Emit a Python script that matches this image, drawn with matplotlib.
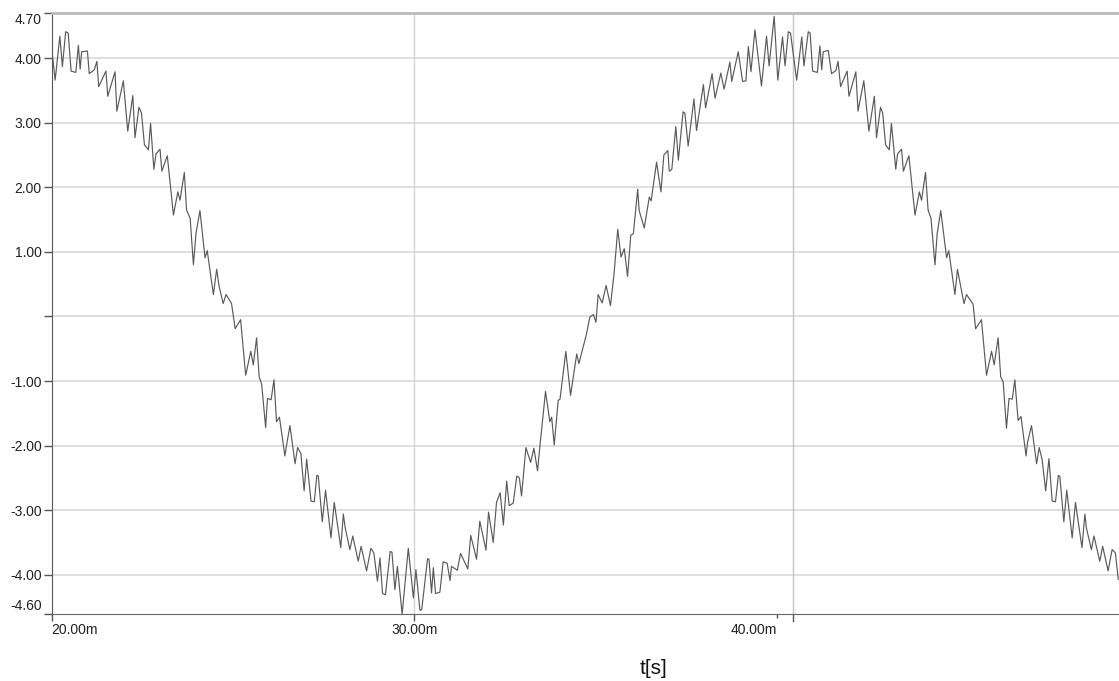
import matplotlib
matplotlib.use("Agg")
import matplotlib.pyplot as plt

# time axis in ms (peaks and dips of the ripple)
t_ms = [20.01, 20.10, 20.23, 20.30, 20.39, 20.46, 20.54, 20.67, 20.74, 20.79,
        20.83, 20.99, 21.04, 21.18, 21.25, 21.30, 21.50, 21.55, 21.75, 21.80,
        21.98, 22.10, 22.24, 22.30, 22.41, 22.48, 22.56, 22.67, 22.73, 22.82,
        22.88, 22.99, 23.04, 23.19, 23.36, 23.48, 23.54, 23.66, 23.72, 23.82,
        23.91, 23.98, 24.09, 24.23, 24.29, 24.46, 24.55, 24.62, 24.73, 24.81,
        24.96, 25.06, 25.21, 25.35, 25.49, 25.56, 25.65, 25.72, 25.79, 25.90,
        25.95, 26.05, 26.13, 26.20, 26.28, 26.43, 26.48, 26.57, 26.71, 26.78,
        26.87, 26.96, 27.03, 27.15, 27.24, 27.31, 27.35, 27.46, 27.55, 27.70,
        27.79, 27.97, 28.04, 28.09, 28.22, 28.30, 28.45, 28.53, 28.68, 28.80,
        28.88, 28.98, 29.05, 29.12, 29.20, 29.33, 29.38, 29.46, 29.53, 29.66,
        29.83, 29.97, 30.04, 30.15, 30.20, 30.36, 30.40, 30.47, 30.52, 30.58,
        30.70, 30.79, 30.90, 30.98, 31.02, 31.18, 31.27, 31.47, 31.55, 31.71,
        31.80, 31.97, 32.04, 32.17, 32.26, 32.36, 32.45, 32.54, 32.61, 32.72,
        32.82, 32.89, 32.95, 33.07, 33.20, 33.29, 33.39, 33.46, 33.50, 33.61,
        33.73, 33.78, 33.85, 33.96, 34.01, 34.17, 34.30, 34.47, 34.53, 34.74,
        34.83, 34.93, 35.00, 35.06, 35.17, 35.28, 35.40, 35.50, 35.60, 35.69,
        35.78, 35.87, 35.96, 36.03, 36.15, 36.19, 36.33, 36.47, 36.52, 36.67,
        36.79, 36.87, 36.98, 37.02, 37.09, 37.20, 37.27, 37.40, 37.45, 37.54,
        37.70, 37.77, 37.96, 38.02, 38.20, 38.28, 38.44, 38.53, 38.69, 38.74,
        38.92, 39.04, 39.13, 39.20, 39.27, 39.38, 39.56, 39.70, 39.77, 39.91,
        40.01, 40.14, 40.21, 40.30, 40.36, 40.53, 40.67, 40.73, 40.85, 40.90,
        40.97, 41.10, 41.17, 41.22, 41.26, 41.40, 41.49, 41.61, 41.67, 41.74,
        41.92, 41.97, 42.16, 42.22, 42.38, 42.52, 42.67, 42.73, 42.84, 42.90,
        42.98, 43.08, 43.14, 43.26, 43.31, 43.42, 43.47, 43.62, 43.79, 43.91,
        43.97, 44.08, 44.15, 44.23, 44.34, 44.40, 44.50, 44.66, 44.72, 44.89,
        44.96, 45.05, 45.14, 45.21, 45.39, 45.46, 45.62, 45.76, 45.90, 45.97,
        46.08, 46.15, 46.22, 46.31, 46.38, 46.47, 46.54, 46.63, 46.71, 46.85,
        46.89, 47.00, 47.14, 47.21, 47.29, 47.39, 47.48, 47.57, 47.66, 47.74,
        47.78, 47.89, 47.97, 48.12, 48.21, 48.39, 48.47, 48.51, 48.65, 48.72,
        48.88, 48.96, 49.11, 49.22, 49.31, 49.39]

volts = [4.13, 3.66, 4.34, 3.87, 4.41, 4.39, 3.80, 3.78, 4.20, 3.83,
         4.10, 4.11, 3.76, 3.82, 3.95, 3.56, 3.80, 3.41, 3.79, 3.18,
         3.65, 2.87, 3.42, 2.77, 3.24, 3.15, 2.66, 2.58, 2.99, 2.28,
         2.52, 2.59, 2.25, 2.49, 1.57, 1.93, 1.80, 2.23, 1.65, 1.52,
         0.80, 1.28, 1.64, 0.91, 1.02, 0.34, 0.73, 0.46, 0.20, 0.34,
         0.20, -0.19, -0.05, -0.91, -0.54, -0.75, -0.33, -0.93, -1.05, -1.72,
         -1.27, -1.29, -0.98, -1.63, -1.56, -2.16, -1.98, -1.69, -2.28, -2.03,
         -2.12, -2.70, -2.21, -2.86, -2.87, -2.46, -2.47, -3.18, -2.69, -3.43,
         -2.88, -3.58, -3.06, -3.27, -3.61, -3.40, -3.79, -3.56, -3.94, -3.59,
         -3.66, -4.10, -3.74, -4.29, -4.31, -3.64, -3.65, -4.23, -3.87, -4.61,
         -3.59, -4.36, -3.92, -4.55, -4.54, -3.75, -3.76, -4.28, -3.89, -4.29,
         -4.27, -3.80, -3.82, -4.09, -3.87, -3.93, -3.67, -3.91, -3.39, -3.76,
         -3.17, -3.62, -3.03, -3.50, -2.88, -2.73, -3.23, -2.55, -2.93, -2.89,
         -2.47, -2.50, -2.78, -2.03, -2.26, -2.04, -2.39, -1.98, -1.77, -1.16,
         -1.63, -1.56, -1.99, -1.30, -1.28, -0.54, -1.22, -0.58, -0.73, -0.27,
         -0.01, 0.03, -0.09, 0.34, 0.21, 0.48, 0.17, 0.67, 1.35, 0.92,
         1.05, 0.62, 1.26, 1.28, 1.97, 1.64, 1.37, 1.85, 1.79, 2.39,
         1.93, 2.50, 2.57, 2.25, 2.28, 2.94, 2.42, 3.17, 3.15, 2.64,
         3.37, 2.88, 3.59, 3.23, 3.76, 3.38, 3.77, 3.52, 3.94, 3.64,
         4.10, 3.64, 3.65, 4.18, 3.79, 4.44, 3.57, 4.34, 3.88, 4.65,
         3.66, 4.33, 3.88, 4.41, 4.39, 3.66, 4.33, 3.88, 4.41, 4.39,
         3.80, 3.78, 4.19, 3.82, 4.10, 4.12, 3.76, 3.81, 3.95, 3.56,
         3.80, 3.41, 3.79, 3.18, 3.65, 2.87, 3.41, 2.77, 3.24, 3.15,
         2.66, 2.58, 2.99, 2.28, 2.52, 2.59, 2.25, 2.49, 1.57, 1.93,
         1.80, 2.23, 1.65, 1.52, 0.80, 1.28, 1.64, 0.91, 1.02, 0.34,
         0.73, 0.46, 0.20, 0.34, 0.19, -0.19, -0.05, -0.91, -0.54, -0.75,
         -0.33, -0.93, -1.02, -1.73, -1.27, -1.28, -0.98, -1.61, -1.55, -2.16,
         -1.95, -1.69, -2.28, -2.03, -2.21, -2.70, -2.20, -2.86, -2.87, -2.46,
         -2.48, -3.18, -2.69, -3.43, -2.88, -3.58, -3.06, -3.27, -3.61, -3.40,
         -3.79, -3.56, -3.94, -3.61, -3.66, -4.07]

y_ticks = [4.7, 4.0, 3.0, 2.0, 1.0, 0.0, -1.0, -2.0, -3.0, -4.0, -4.6]
y_labels = ["4.70", "4.00", "3.00", "2.00", "1.00", "", "-1.00", "-2.00",
            "-3.00", "-4.00", "-4.60"]
x_ticks = [20.0, 30.0, 40.0]
x_labels = ["20.00m", "30.00m", "40.00m"]
cursor_ms = 40.44

plt.rcParams['font.family'] = ['Liberation Sans', 'DejaVu Sans']

fig = plt.figure(figsize=(11.19, 6.81), dpi=100)
W, H = 1119.0, 681.0
ax = fig.add_axes([51.5 / W, 1 - 613.5 / H, 1 - 51.5 / W, (613.5 - 13) / H])

# grid
for v in range(-4, 5):
    ax.axhline(v, color='#dcdcdc', lw=1.3, zorder=0)
ax.axvline(30.0, color='#d4d4d4', lw=1.0, zorder=0)
ax.axvline(cursor_ms, color='#c4c4c4', lw=1.0, zorder=0)
# little tick under the cursor line
ax.plot([cursor_ms, cursor_ms], [0, -0.012], transform=ax.get_xaxis_transform(),
        color='#555555', lw=1, clip_on=False)

ax.plot(t_ms, volts, color='#5a5a5a', lw=0.85, zorder=2)

ax.set_xlim(20.0, 49.41)
ax.set_ylim(-4.6, 4.7)

ax.set_yticks(y_ticks)
ax.set_yticklabels(y_labels)
ax.set_xticks(x_ticks)
ax.set_xticklabels(x_labels)

ax.tick_params(axis='y', length=6, width=1, color='#555555', labelsize=10,
               pad=1, labelcolor='#222222')
ax.tick_params(axis='x', length=5, width=1, color='#555555', labelsize=10,
               pad=2, labelcolor='#222222')

ylabs = ax.get_yticklabels()
ylabs[0].set_va('top')
ylabs[-1].set_va('bottom')
xlabs = ax.get_xticklabels()
xlabs[0].set_ha('left')
xlabs[2].set_ha('right')
# 40.00m tick is barely visible in the original
ax.xaxis.get_major_ticks()[2].tick1line.set_color('#dddddd')
ax.xaxis.get_major_ticks()[2].tick1line.set_markersize(3)

ax.spines['right'].set_visible(False)
ax.spines['top'].set_color('#bbbbbb')
ax.spines['top'].set_linewidth(2)
ax.spines['left'].set_color('#555555')
ax.spines['bottom'].set_color('#666666')

fig.text(654 / W, 1 - 668 / H, "t[s]", ha='center', va='center', fontsize=15,
         color='#111111')

fig.savefig("out.png", dpi=100, facecolor='white')
